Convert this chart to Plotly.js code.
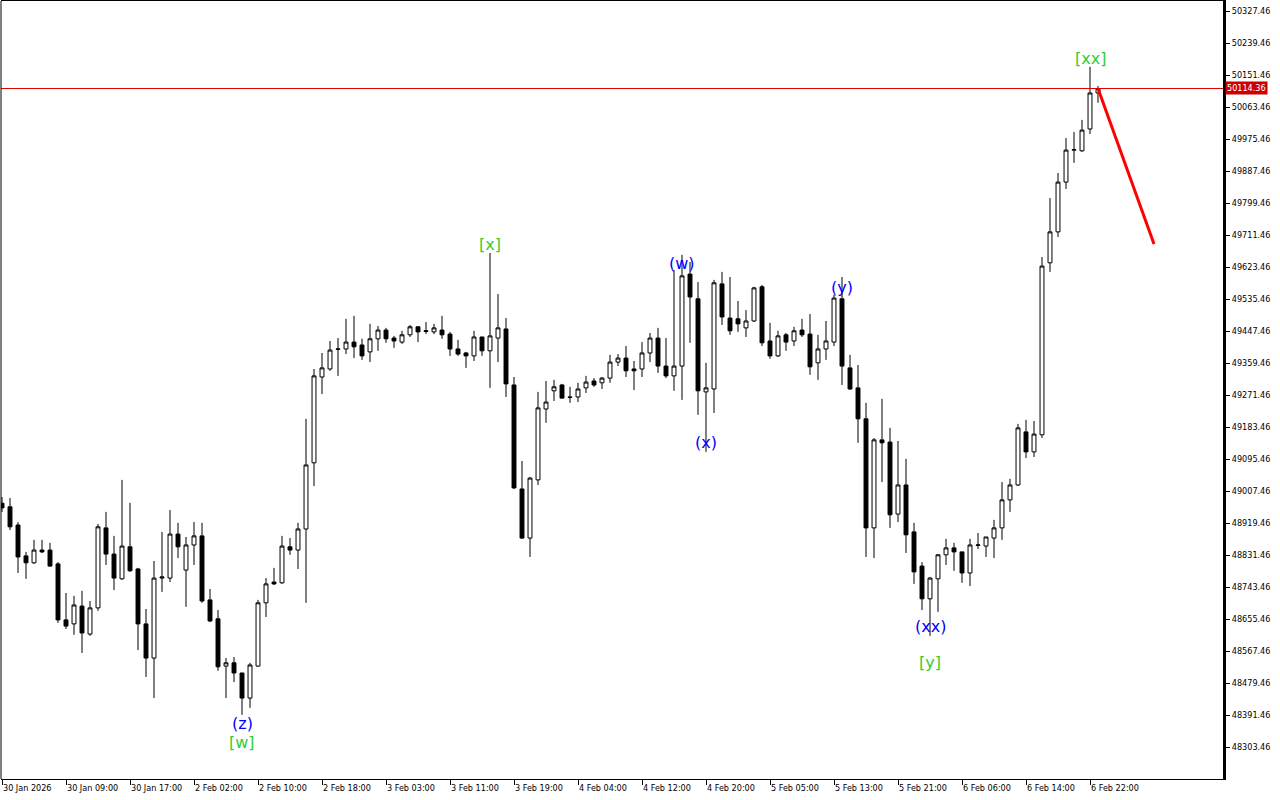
<!DOCTYPE html>
<html>
<head>
<meta charset="utf-8">
<script src="https://cdn.plot.ly/plotly-3.0.1.min.js"></script>
<style>
html,body{margin:0;padding:0;background:#fff;}
#chart{width:1280px;height:800px;}
</style>
</head>
<body>
<div id="chart"></div>
<script>
// Hourly bars, 30 Jan 2026 01:00 -> 6 Feb 2026 23:00
const openP = [
48974,48964,48914,48829,48810,48845,48845,48807,48653,48642,
48691,48614,48686,48906,48834,48766,48854,48793,48642,48548,
48768,48768,48889,48790,48859,48884,48708,48656,48526,48535,
48507,48438,48526,48700,48757,48755,48854,48845,48903,49085,
49321,49343,49397,49398,49417,49409,49390,49426,49450,49428,
49417,49437,49459,49446,49445,49450,49439,49398,49387,49379,
49431,49393,49428,49453,49299,49013,48878,49038,49233,49283,
49299,49266,49266,49291,49310,49305,49318,49362,49373,49343,
49343,49387,49428,49351,49324,49351,49604,49536,49280,49288,
49577,49483,49481,49456,49475,49569,49420,49379,49437,49420,
49450,49439,49360,49398,49417,49536,49346,49291,49206,48906,
49148,49142,48944,49024,48895,48801,48711,48766,48832,48851,
48840,48782,48858,48856,48878,48906,48983,49024,49170,49115,
49162,49635,49720,49857,49945,49943,50003,50102];
const highP = [
48991,48988,48922,48840,48873,48873,48865,48812,48727,48719,
48733,48705,48917,48950,48884,49038,48975,48796,48683,48815,
48895,48955,48920,48881,48922,48920,48738,48680,48548,48551,
48507,48535,48708,48768,48796,48884,48878,48920,49206,49343,
49387,49420,49428,49481,49489,49426,49467,49461,49456,49434,
49448,49464,49461,49472,49467,49489,49445,49423,49390,49448,
49431,49662,49549,49483,49321,49090,49046,49280,49310,49313,
49302,49294,49305,49324,49318,49321,49382,49384,49406,49365,
49417,49442,49456,49428,49615,49657,49637,49582,49360,49588,
49610,49596,49530,49505,49569,49574,49470,49448,49442,49459,
49481,49494,49437,49475,49547,49596,49382,49354,49250,49153,
49261,49181,49145,49096,48920,48812,48771,48834,48876,48865,
48840,48876,48892,48881,48928,49032,49041,49192,49203,49200,
49651,49813,49882,49978,49995,50028,50174,50121];
const lowP = [
48950,48900,48782,48766,48807,48837,48799,48645,48628,48612,
48562,48609,48678,48804,48735,48763,48785,48570,48496,48438,
48730,48757,48823,48689,48804,48700,48647,48513,48438,48482,
48392,48411,48524,48661,48749,48752,48832,48793,48700,49021,
49274,49338,49324,49384,49373,49368,49362,49393,49415,49401,
49412,49431,49417,49439,49439,49426,49379,49379,49346,49365,
49379,49291,49362,49266,49013,48876,48826,49024,49195,49255,
49261,49250,49252,49277,49294,49288,49305,49351,49321,49285,
49321,49362,49332,49318,49283,49258,49415,49217,49115,49222,
49464,49437,49445,49431,49472,49406,49371,49376,49393,49406,
49431,49327,49313,49368,49406,49299,49285,49140,48826,48823,
49032,48906,48922,48837,48752,48680,48609,48675,48804,48788,
48755,48746,48848,48826,48823,48873,48950,49021,49098,49101,
49153,49610,49706,49838,49910,49940,49989,50075];
const closeP = [
48961,48909,48826,48810,48845,48840,48801,48653,48636,48694,
48617,48686,48909,48834,48768,48856,48788,48642,48548,48768,
48771,48889,48854,48859,48884,48705,48650,48524,48535,48507,
48438,48529,48700,48752,48752,48856,48845,48903,49079,49324,
49346,49395,49398,49417,49404,49379,49426,49450,49426,49420,
49437,49459,49445,49448,49456,49437,49398,49384,49379,49431,
49393,49434,49456,49302,49016,48878,49043,49236,49252,49294,
49263,49265,49288,49307,49299,49318,49362,49373,49338,49338,
49387,49428,49351,49324,49351,49599,49541,49283,49291,49580,
49486,49448,49467,49475,49566,49415,49379,49434,49417,49448,
49437,49349,49398,49420,49538,49351,49288,49206,48906,49148,
49140,48942,49024,48887,48785,48711,48768,48832,48851,48840,
48782,48859,48859,48881,48906,48983,49024,49181,49115,49164,
49626,49720,49857,49945,49946,50000,50102,50114.36];

const tickIdx = [0,8,16,24,32,40,48,56,64,72,80,88,96,104,112,120,128,136];
const tickText = ["30 Jan 2026","30 Jan 09:00","30 Jan 17:00","2 Feb 02:00","2 Feb 10:00",
  "2 Feb 18:00","3 Feb 03:00","3 Feb 11:00","3 Feb 19:00","4 Feb 04:00","4 Feb 12:00",
  "4 Feb 20:00","5 Feb 05:00","5 Feb 13:00","5 Feb 21:00","6 Feb 06:00","6 Feb 14:00","6 Feb 22:00"];

const yTickVals = [48303.46,48391.46,48479.46,48567.46,48655.46,48743.46,48831.46,48919.46,
  49007.46,49095.46,49183.46,49271.46,49359.46,49447.46,49535.46,49623.46,49711.46,49799.46,
  49887.46,49975.46,50063.46,50151.46,50239.46,50327.46];

const waveText  = ["(z)","[w]","[x]","(w)","(x)","(y)","(xx)","[y]","[xx]"];
const waveIdx   = [30,30,61,85,88,105,116,116,136];
const wavePrice = [48369,48317,49684,49632,49140,49568,48634,48537,50196];
const waveColor = ["#0000ff","#32cd32","#32cd32","#0000ff","#0000ff","#0000ff","#0000ff","#32cd32","#32cd32"];

const projIdx   = [137,144];
const projPrice = [50114.36,49687];

const lastPrice = 50114.36;

const xs = openP.map((_, i) => i);

const candles = {
  type: 'candlestick',
  x: xs, open: openP, high: highP, low: lowP, close: closeP,
  increasing: {line: {color: '#000', width: 1}, fillcolor: '#ffffff'},
  decreasing: {line: {color: '#000', width: 1}, fillcolor: '#000000'},
  whiskerwidth: 0,
  hoverinfo: 'skip',
  showlegend: false
};
const proj = {
  type: 'scatter', mode: 'lines',
  x: projIdx, y: projPrice,
  line: {color: '#ff0000', width: 3},
  hoverinfo: 'skip', showlegend: false
};

const axisFont = {family: 'DejaVu Sans Condensed, DejaVu Sans, sans-serif', size: 9, color: '#000'};

const annotations = waveText.map((t, k) => ({
  x: waveIdx[k], y: wavePrice[k], xref: 'x', yref: 'y',
  text: t, showarrow: false, xanchor: 'center', yanchor: 'middle',
  font: {family: 'DejaVu Sans, sans-serif', size: 16, color: waveColor[k]}
}));
annotations.push({
  x: 1, xref: 'paper', y: lastPrice, yref: 'y', xanchor: 'left', yanchor: 'middle',
  xshift: 2, text: lastPrice.toFixed(2), showarrow: false,
  bgcolor: '#cc0000', borderpad: 1,
  font: {family: axisFont.family, size: 9, color: '#ffffff'}
});

const layout = {
  width: 1280, height: 800,
  margin: {l: 1, r: 57, t: 1, b: 21, pad: 0},
  paper_bgcolor: '#ffffff', plot_bgcolor: '#ffffff',
  showlegend: false,
  boxgap: 0.3,
  xaxis: {
    type: 'linear',
    range: [-0.125, 152.625],
    rangeslider: {visible: false},
    showgrid: false, zeroline: false,
    showline: true, linecolor: '#000', linewidth: 1, mirror: true,
    tickmode: 'array', tickvals: tickIdx, ticktext: tickText,
    ticks: 'outside', ticklen: 5, tickcolor: '#000', tickwidth: 1,
    ticklabelposition: 'outside right',
    tickfont: axisFont,
    fixedrange: true
  },
  yaxis: {
    side: 'right',
    range: [48215.45, 50354.96],
    showgrid: false, zeroline: false,
    showline: true, linecolor: '#000', linewidth: 3, mirror: false,
    tickmode: 'array', tickvals: yTickVals, ticktext: yTickVals.map(v => v.toFixed(2)),
    ticks: 'outside', ticklen: 4, tickcolor: '#000', tickwidth: 1,
    tickfont: axisFont,
    fixedrange: true
  },
  shapes: [
    {type: 'line', xref: 'paper', yref: 'y', x0: 0, x1: 1, y0: lastPrice, y1: lastPrice,
     line: {color: '#dd0000', width: 1}},
    {type: 'line', xref: 'paper', yref: 'paper', x0: 0, x1: 0, y0: 0, y1: 1,
     line: {color: '#000', width: 1}}
  ],
  annotations: annotations
};

Plotly.newPlot('chart', [candles, proj], layout, {displayModeBar: false, staticPlot: true});
</script>
</body>
</html>
